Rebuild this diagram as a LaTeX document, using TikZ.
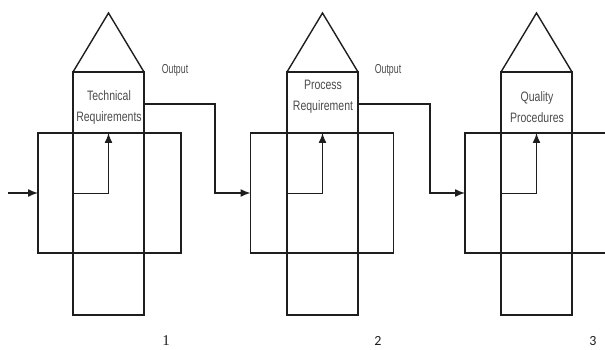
\documentclass[tikz,border=0pt]{standalone}
\usepackage{fontspec}
\setmainfont{Liberation Sans}
\newfontfamily\numserif{Liberation Serif}
\newfontfamily\numsans{Carlito}
\usetikzlibrary{arrows.meta}
\definecolor{linec}{RGB}{30,30,30}
\definecolor{textc}{RGB}{75,75,75}
\newcommand{\tall}[1]{\scalebox{1}[1.3]{#1}}
\newcommand{\tallo}[1]{\scalebox{0.88}[1.3]{#1}}
\tikzset{
  shapeline/.style={draw=linec, line width=1.4pt},
  tallbox/.style={shapeline, rectangle, minimum width=71pt, minimum height=243pt, inner sep=0pt, outer sep=0pt},
  widebox/.style={shapeline, rectangle, minimum width=143pt, minimum height=120pt, inner sep=0pt, outer sep=0pt},
  lbl/.style={text=textc, font=\fontsize{10.5}{21}\selectfont, align=center, inner sep=0pt},
  outlbl/.style={text=textc, font=\fontsize{10}{12}\selectfont, inner sep=0pt},
  numlbl/.style={text=linec, inner sep=0pt},
  arr/.style={draw=linec, line width=1.4pt, -{Latex[length=10pt,width=8pt]}},
}
\begin{document}
\begin{tikzpicture}[x=1pt,y=-1pt]
\useasboundingbox (0,0) rectangle (605,350);
\clip (0,0) rectangle (605,350);
% unit 1
\node[widebox] (w1) at (109.5,193) {};
\node[tallbox] (t1) at (108.5,193.5) {};
\coordinate (a1) at (108.5,13);
\draw[shapeline] (t1.north west) -- (a1) -- (t1.north east);
\node[lbl] (l1) at (109,107) {\tall{Technical}\\\tall{Requirements}};
% unit 2
\node[widebox] (w2) at (322,193) {};
\node[tallbox] (t2) at (322.5,193.5) {};
\coordinate (a2) at (322.5,13);
\draw[shapeline] (t2.north west) -- (a2) -- (t2.north east);
\node[lbl] (l2) at (323,97) {\tall{Process}\\\tall{Requirement}};
% unit 3
\node[widebox] (w3) at (536.5,193) {};
\node[tallbox] (t3) at (536.5,193.5) {};
\coordinate (a3) at (536.5,13);
\draw[shapeline] (t3.north west) -- (a3) -- (t3.north east);
\node[lbl] (l3) at (537,107) {\tall{Quality}\\\tall{Procedures}};
% input
\coordinate (in) at (8,193);
\draw[arr] (in) -- (w1.west);
% inner arrows
\draw[arr] (t1.west) -| (a1 |- w1.north);
\draw[arr] (t2.west) -| (a2 |- w2.north);
\draw[arr] (t3.west) -| (a3 |- w3.north);
% outputs
\coordinate (o1) at (215,104);
\coordinate (o2) at (430,104);
\draw[arr] (t1.east |- o1) -- (o1) |- (w2.west);
\draw[arr] (t2.east |- o2) -- (o2) |- (w3.west);
\node[outlbl] (out1) at (175,70) {\tallo{Output}};
\node[outlbl] (out2) at (388,70) {\tallo{Output}};
% numbers
\node[numlbl, font=\numserif\fontsize{15}{16}\selectfont] (n1) at (166,341) {1};
\node[numlbl, font=\numsans\fontsize{14}{16}\selectfont] (n2) at (378,341) {2};
\node[numlbl, font=\numsans\fontsize{14}{16}\selectfont] (n3) at (593,341) {3};
\end{tikzpicture}
\end{document}
